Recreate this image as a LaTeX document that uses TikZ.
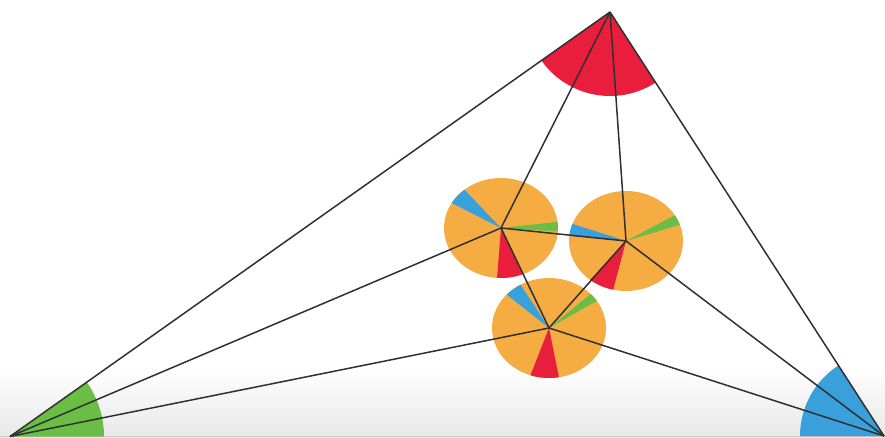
\documentclass[tikz,border=0pt]{standalone}
\usetikzlibrary{calc}
\definecolor{pieorange}{HTML}{F5AC42}
\definecolor{piered}{HTML}{E81E3C}
\definecolor{piegreen}{HTML}{6BBE45}
\definecolor{pieblue}{HTML}{3AA0DC}
\definecolor{linegray}{HTML}{303030}
\begin{document}
\begin{tikzpicture}[x=1pt,y=1pt,
  link/.style={draw=linegray,line width=1.5pt},
  pie/.style={fill=pieorange}]
\useasboundingbox (0,0) rectangle (885,437);
\clip (0,0) rectangle (885,437);
% floor gradient
\shade[top color=white,bottom color=black!9] (0,0) rectangle (885,70);
\fill[black!22] (0,0) rectangle (885,1.2);
% vertices and hubs
\coordinate (T) at (610,425);
\coordinate (L) at (10,0.5);
\coordinate (R) at (884,1);
\coordinate (A) at (501,209);
\coordinate (B) at (626,196);
\coordinate (C) at (549,109);
% corner sectors
\fill[piered] (T) -- ++(215.3:84) arc[start angle=215.3,end angle=302.9,radius=84] -- cycle;
\fill[piegreen] (L) -- ++(0:94) arc[start angle=0,end angle=35.25,radius=94] -- cycle;
\fill[pieblue] (R) -- ++(122.9:84) arc[start angle=122.9,end angle=180,radius=84] -- cycle;
% pies
\newcommand{\pieslice}[4]{\fill[#4] (#1) -- ++(#2:57 and 50) arc[start angle=#2,end angle=#3,x radius=57,y radius=50] -- cycle;}
\foreach \h in {A,B,C}{\fill[pie] (\h) ellipse[x radius=57,y radius=50];}
\pieslice{A}{130}{150}{pieblue}
\pieslice{A}{-4}{7}{piegreen}
\pieslice{A}{-94}{-68}{piered}
\pieslice{B}{160}{174}{pieblue}
\pieslice{B}{19}{31}{piegreen}
\pieslice{B}{-129}{-103}{piered}
\pieslice{C}{120}{138}{pieblue}
\pieslice{C}{33}{43}{piegreen}
\pieslice{C}{-109}{-80}{piered}
% connectors
\draw[link] (T) -- (L);
\draw[link] (T) -- (R);
\draw[link] (T) -- (A);
\draw[link] (T) -- (B);
\draw[link] (L) -- (A);
\draw[link] (L) -- (C);
\draw[link] (R) -- (B);
\draw[link] (R) -- (C);
\draw[link] (A) -- (B);
\draw[link] (A) -- (C);
\draw[link] (B) -- (C);
\end{tikzpicture}
\end{document}
